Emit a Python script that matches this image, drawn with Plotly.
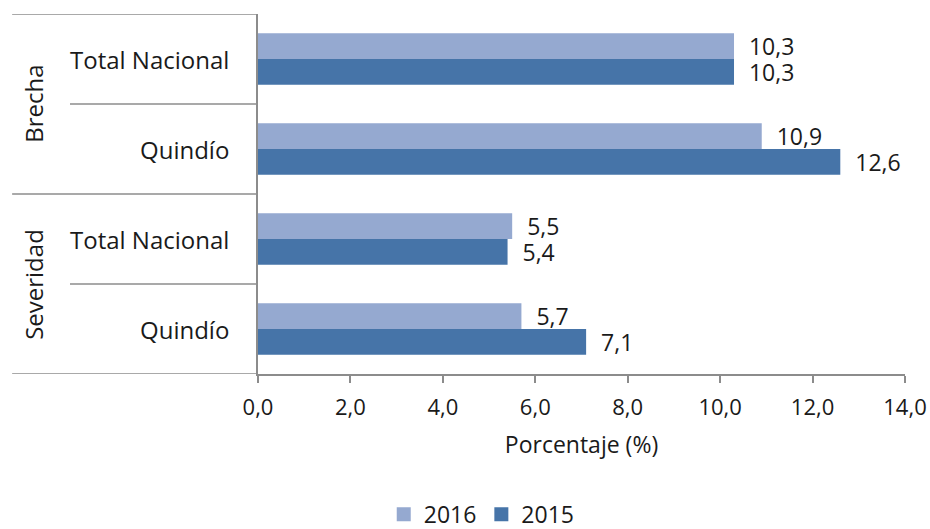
import plotly.graph_objects as go

# datos
grupos = ["Brecha", "Brecha", "Severidad", "Severidad"]
territorios = ["Total Nacional", "Quindío", "Total Nacional", "Quindío"]
valores_2016 = [10.3, 10.9, 5.5, 5.7]
valores_2015 = [10.3, 12.6, 5.4, 7.1]
ticks_x = [0, 2, 4, 6, 8, 10, 12, 14]

color_2016 = "#95a9d0"
color_2015 = "#4674a8"
gris = "#8c8c8c"
fuente = "Open Sans"
tam = 23

pos = list(range(len(territorios)))
series = [("2016", valores_2016, color_2016), ("2015", valores_2015, color_2015)]

fig = go.Figure()
for nombre, vals, color in series:
    fig.add_trace(
        go.Bar(
            x=vals,
            y=pos,
            name=nombre,
            orientation="h",
            marker=dict(color=color, line=dict(width=0)),
            texttemplate="\u00a0\u00a0%{x:.1f}",
            textposition="outside",
            constraintext="none",
            textfont=dict(size=tam, color="#1a1a1a", family=fuente),
            cliponaxis=False,
            hoverinfo="skip",
            showlegend=False,
        )
    )
# leyenda con cuadrados mas grandes
for nombre, vals, color in series:
    fig.add_trace(
        go.Scatter(
            x=[None], y=[None], mode="markers", name=nombre,
            marker=dict(symbol="square", size=14, color=color),
        )
    )

# etiquetas de categorias
anotaciones = []
for i, t in enumerate(territorios):
    anotaciones.append(dict(
        x=-0.042, xref="paper", y=i, yref="y", text=t, showarrow=False,
        xanchor="right", yanchor="middle",
        font=dict(size=24, color="#1a1a1a", family=fuente),
    ))
for g in dict.fromkeys(grupos):
    idx = [i for i, v in enumerate(grupos) if v == g]
    anotaciones.append(dict(
        x=-0.348, xref="paper", y=sum(idx) / len(idx), yref="y", text=g,
        showarrow=False, textangle=-90, xanchor="center", yanchor="middle",
        font=dict(size=24, color="#1a1a1a", family=fuente),
    ))

# lineas separadoras
lineas = []
n = len(territorios)
for k in range(n + 1):
    borde = k - 0.5
    inicio_grupo = k == 0 or k == n or grupos[k] != grupos[k - 1]
    x0 = -0.380 if inicio_grupo else -0.2906
    lineas.append(dict(
        type="line", xref="paper", yref="y", x0=x0, x1=0, y0=borde, y1=borde,
        line=dict(color=gris, width=1.5),
    ))

fig.update_layout(
    width=930,
    height=529,
    margin=dict(l=258, r=25, t=14, b=155, autoexpand=False),
    paper_bgcolor="white",
    plot_bgcolor="white",
    barmode="group",
    bargap=0.43,
    bargroupgap=0,
    separators=",.",
    font=dict(family=fuente, size=tam, color="#1a1a1a"),
    annotations=anotaciones,
    shapes=lineas,
    showlegend=True,
    legend=dict(
        orientation="h", x=0.518, xref="container", xanchor="center",
        y=0.028, yref="container", yanchor="middle",
        font=dict(size=tam, family=fuente), traceorder="normal",
        itemwidth=30, tracegroupgap=0,
    ),
)
fig.update_xaxes(
    range=[0, 14],
    tickvals=ticks_x,
    tickformat=".1f",
    tickfont=dict(size=22, family=fuente),
    showline=True,
    linecolor=gris,
    linewidth=1.5,
    ticks="outside",
    ticklen=7,
    tickcolor=gris,
    tickwidth=1.5,
    ticklabelstandoff=6,
    showgrid=False,
    zeroline=False,
    automargin=False,
    title=dict(text="Porcentaje (%)", standoff=17, font=dict(size=tam, family=fuente)),
)
fig.update_yaxes(
    range=[n - 0.5, -0.5],
    showticklabels=False,
    showline=True,
    linecolor=gris,
    linewidth=1.5,
    showgrid=False,
    zeroline=False,
    automargin=False,
)

# sin margen en el body para que la figura ocupe toda la ventana
fig.write_html(
    "out.html",
    config={"displayModeBar": False},
    post_script="document.body.style.margin='0';document.body.style.overflow='hidden';",
)
